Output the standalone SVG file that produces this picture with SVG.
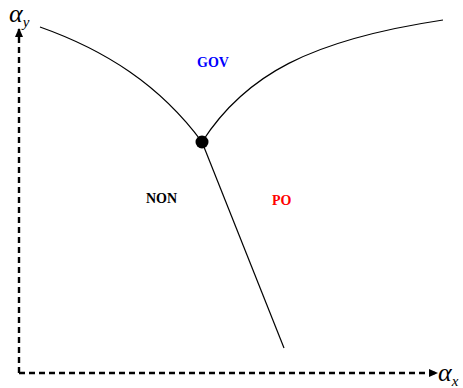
<svg xmlns="http://www.w3.org/2000/svg" width="463" height="388" viewBox="0 0 463 388">
<style>
.axis{fill:none;stroke:#000;stroke-width:2.4;stroke-dasharray:6,4}
.curve{fill:none;stroke:#000;stroke-width:1.2}
.lbl{font-family:"Liberation Serif",serif;font-weight:bold;font-size:14px}
.ax{font-family:"Liberation Serif",serif;font-style:italic}
</style>
<defs>
<marker id="ah" markerWidth="10" markerHeight="10" refX="8" refY="5" orient="auto" markerUnits="userSpaceOnUse">
<path d="M0,1 L9,5 L0,9 Z" fill="#000"/>
</marker>
</defs>
<rect width="463" height="388" fill="#fff"/>
<g id="connectors">
<path class="axis" d="M19,373 L19,29" marker-end="url(#ah)"/>
<path class="axis" d="M19,373 L437,373" marker-end="url(#ah)"/>
<path class="curve" d="M40,27 C105,50 160,85 202,142"/>
<path class="curve" d="M202,142 C245,75 310,40 443,20"/>
<path class="curve" d="M202,142 L284,348"/>
</g>
<g id="point"><circle cx="202" cy="142" r="6.5" fill="#000"/></g>
<g id="label-ay"><text class="ax" x="9" y="22" font-size="26">α<tspan font-size="15" dy="5">y</tspan></text></g>
<g id="label-ax"><text class="ax" x="438" y="381" font-size="26">α<tspan font-size="15" dy="5">x</tspan></text></g>
<g id="gov"><text class="lbl" x="197" y="67" fill="#0000ff">GOV</text></g>
<g id="non"><text class="lbl" x="146" y="203" fill="#000">NON</text></g>
<g id="po"><text class="lbl" x="272" y="205" fill="#ff0000">PO</text></g>
</svg>
